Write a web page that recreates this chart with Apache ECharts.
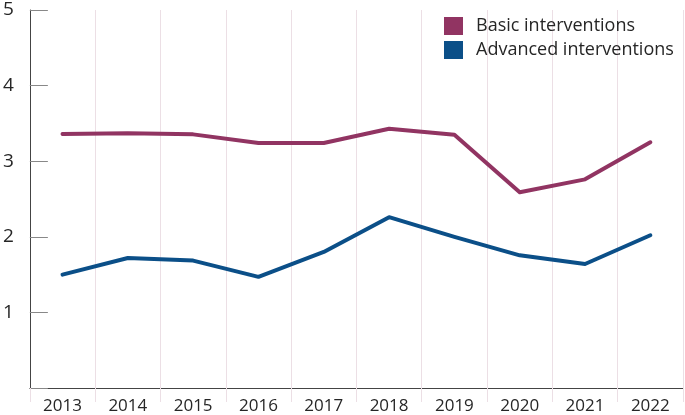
<!DOCTYPE html>
<html>
<head>
<meta charset="utf-8">
<script src="https://cdn.jsdelivr.net/npm/echarts@6/dist/echarts.min.js"></script>
<style>html,body{margin:0;padding:0;background:#fff}#c{width:685px;height:415px}</style>
</head>
<body>
<div id="c"></div>
<script>
var years = ['2013','2014','2015','2016','2017','2018','2019','2020','2021','2022'];
var basic = [3.36, 3.37, 3.355, 3.24, 3.24, 3.43, 3.35, 2.59, 2.76, 3.25];
var advanced = [1.50, 1.72, 1.685, 1.47, 1.80, 2.26, 2.00, 1.755, 1.64, 2.02];
var yTicks = [0, 1, 2, 3, 4, 5];

var FONT = '"Open Sans", "Noto Sans", sans-serif';
var chart = echarts.init(document.getElementById('c'), null, {renderer: 'canvas'});
chart.setOption({
  animation: false,
  backgroundColor: '#ffffff',
  textStyle: {fontFamily: FONT},
  grid: {left: 28, right: 2, top: 10, bottom: 26, containLabel: false},
  legend: {
    orient: 'vertical', left: 444, top: 17, padding: 0,
    itemWidth: 19, itemHeight: 18, itemGap: 6, icon: 'rect',
    textStyle: {fontSize: 18, lineHeight: 18, color: '#262626', fontFamily: FONT, padding: [0, 0, 0, 8]},
    data: ['Basic interventions', 'Advanced interventions']
  },
  xAxis: {
    type: 'category', data: years, boundaryGap: true,
    axisLine: {lineStyle: {color: '#444', width: 1}},
    axisTick: {show: true, length: 14, lineStyle: {color: '#ecdfe5'}},
    axisLabel: {fontSize: 17, color: '#262626', margin: 10, fontFamily: FONT},
    splitLine: {show: true, lineStyle: {color: '#ecdfe5', width: 1}}
  },
  yAxis: {
    type: 'value', min: yTicks[0], max: yTicks[yTicks.length - 1], interval: 1,
    axisLine: {show: true, lineStyle: {color: '#444', width: 1}},
    axisTick: {show: true, inside: true, length: 18, lineStyle: {color: '#888'}},
    axisLabel: {fontSize: 19, color: '#262626', margin: 16, fontFamily: FONT,
      formatter: function (v) { return v === 0 ? '' : String(v); }},
    splitLine: {show: false}
  },
  series: [
    {name: 'Basic interventions', type: 'line', data: basic, showSymbol: false, symbol: 'none',
     itemStyle: {color: '#913462'}, lineStyle: {width: 4, color: '#913462', cap: 'round', join: 'round'}},
    {name: 'Advanced interventions', type: 'line', data: advanced, showSymbol: false, symbol: 'none',
     itemStyle: {color: '#0b4f88'}, lineStyle: {width: 4, color: '#0b4f88', cap: 'round', join: 'round'}}
  ]
});
</script>
</body>
</html>
